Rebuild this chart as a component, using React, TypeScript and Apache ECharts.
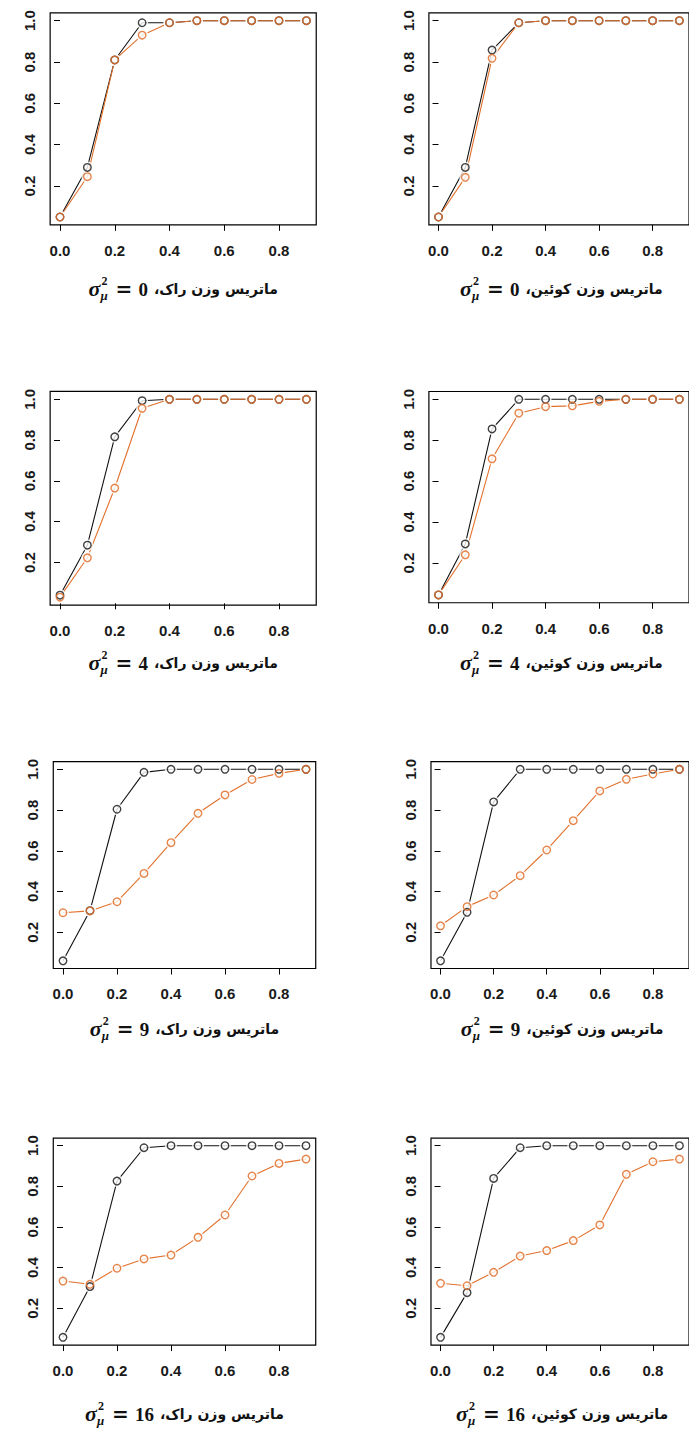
import React, { useEffect, useRef } from "react";
import * as echarts from "echarts";

// ---- data ----
const xValues = [0, 0.1, 0.2, 0.3, 0.4, 0.5, 0.6, 0.7, 0.8, 0.9];
const xTickValues = [0, 0.2, 0.4, 0.6, 0.8];
const yTickValues = [0.2, 0.4, 0.6, 0.8, 1.0];

const rookS0Black = [0.05, 0.29, 0.81, 0.99, 0.99, 1.0, 1.0, 1.0, 1.0, 1.0];
const rookS0Orange = [0.05, 0.245, 0.81, 0.93, 0.99, 1.0, 1.0, 1.0, 1.0, 1.0];
const queenS0Black = [0.05, 0.29, 0.858, 0.99, 1.0, 1.0, 1.0, 1.0, 1.0, 1.0];
const queenS0Orange = [0.05, 0.242, 0.818, 0.99, 1.0, 1.0, 1.0, 1.0, 1.0, 1.0];

const rookS4Black = [0.04, 0.285, 0.816, 0.993, 1.0, 1.0, 1.0, 1.0, 1.0, 1.0];
const rookS4Orange = [0.03, 0.223, 0.565, 0.956, 1.0, 1.0, 1.0, 1.0, 1.0, 1.0];
const queenS4Black = [0.044, 0.293, 0.855, 1.0, 1.0, 1.0, 1.0, 1.0, 1.0, 1.0];
const queenS4Orange = [0.044, 0.24, 0.709, 0.932, 0.964, 0.968, 0.99, 1.0, 1.0, 1.0];

const rookS9Black = [0.06, 0.306, 0.804, 0.985, 1.0, 1.0, 1.0, 1.0, 1.0, 1.0];
const rookS9Orange = [0.296, 0.305, 0.35, 0.489, 0.64, 0.784, 0.874, 0.95, 0.98, 1.0];
const queenS9Black = [0.06, 0.298, 0.84, 1.0, 1.0, 1.0, 1.0, 1.0, 1.0, 1.0];
const queenS9Orange = [0.232, 0.326, 0.383, 0.478, 0.604, 0.748, 0.894, 0.951, 0.977, 1.0];

const rookS16Black = [0.057, 0.307, 0.826, 0.99, 1.0, 1.0, 1.0, 1.0, 1.0, 1.0];
const rookS16Orange = [0.334, 0.318, 0.397, 0.443, 0.462, 0.549, 0.659, 0.851, 0.913, 0.934];
const queenS16Black = [0.057, 0.277, 0.839, 0.99, 1.0, 1.0, 1.0, 1.0, 1.0, 1.0];
const queenS16Orange = [0.323, 0.311, 0.377, 0.457, 0.484, 0.533, 0.61, 0.859, 0.921, 0.934];

const captionLabels = ["ماتریس وزن راک،", "ماتریس وزن کوئین،"];
const sigmaValues = ["0", "4", "9", "16"];

const panelSeries = [
  [rookS0Black, rookS0Orange],
  [queenS0Black, queenS0Orange],
  [rookS4Black, rookS4Orange],
  [queenS4Black, queenS4Orange],
  [rookS9Black, rookS9Orange],
  [queenS9Black, queenS9Orange],
  [rookS16Black, rookS16Orange],
  [queenS16Black, queenS16Orange],
];

// ---- layout (pixel positions of ticks 0.0 / 0.8 on x, 1.0 / 0.2 on y) ----
const layout = [
  { x0: 60, x8: 279, y10: 20.7, y02: 186, capY: 288 },
  { x0: 438.7, x8: 656.7, y10: 20.7, y02: 186, capY: 288 },
  { x0: 60, x8: 279, y10: 399.3, y02: 562.5, capY: 662 },
  { x0: 438.7, x8: 656.7, y10: 399.3, y02: 563, capY: 662 },
  { x0: 63, x8: 279, y10: 769.3, y02: 932.3, capY: 1028 },
  { x0: 440.7, x8: 656.7, y10: 769.3, y02: 932.3, capY: 1028 },
  { x0: 63, x8: 279, y10: 1145.7, y02: 1308.3, capY: 1413 },
  { x0: 440.7, x8: 656.7, y10: 1145.7, y02: 1308.3, capY: 1413 },
];

const BLACK = "#111111";
const ORANGE = "#E2702C";
const LABEL_FONT = "Liberation Sans";
const PERSIAN_FONT = "bold 14px 'DejaVu Sans'";
const DIGIT_FONT = "bold 19px 'Liberation Serif'";

function padRange(vals: number[]): [number, number] {
  const mn = Math.min(...vals);
  const mx = Math.max(...vals);
  const p = (mx - mn) * 0.04;
  return [mn - p, mx + p];
}

let measureCtx: CanvasRenderingContext2D | null = null;
function measure(text: string, font: string): number {
  if (!measureCtx) measureCtx = document.createElement("canvas").getContext("2d");
  if (!measureCtx) return text.length * 8;
  measureCtx.font = font;
  return measureCtx.measureText(text).width;
}

function buildOption() {
  const grids: any[] = [];
  const xAxes: any[] = [];
  const yAxes: any[] = [];
  const series: any[] = [];
  const graphics: any[] = [];
  const xr = padRange(xValues);

  panelSeries.forEach((pair, i) => {
    const L = layout[i];
    const [blk, org] = pair;
    const yr = padRange([...blk, ...org]);
    const sx = (L.x8 - L.x0) / 0.8;
    const sy = (L.y02 - L.y10) / 0.8;
    const left = L.x0 + xr[0] * sx;
    const width = (xr[1] - xr[0]) * sx;
    const top = L.y10 - (yr[1] - 1) * sy;
    const height = (yr[1] - yr[0]) * sy;
    grids.push({
      left,
      top,
      width,
      height,
      show: true,
      borderColor: "#000",
      borderWidth: 1.2,
      backgroundColor: "transparent",
      containLabel: false,
    });
    xAxes.push({
      gridIndex: i,
      type: "value",
      min: xr[0],
      max: xr[1],
      splitLine: { show: false },
      axisLine: { show: false },
      axisTick: {
        show: true,
        inside: false,
        length: 6,
        customValues: xTickValues,
        lineStyle: { color: "#000", width: 1 },
      },
      axisLabel: {
        customValues: xTickValues,
        formatter: (v: number) => v.toFixed(1),
        margin: 18,
        fontFamily: LABEL_FONT,
        fontSize: 15,
        fontWeight: "bold",
        color: "#1a1a1a",
      },
    });
    yAxes.push({
      gridIndex: i,
      type: "value",
      min: yr[0],
      max: yr[1],
      splitLine: { show: false },
      axisLine: { show: false },
      axisTick: {
        show: true,
        inside: false,
        length: 6,
        customValues: yTickValues,
        lineStyle: { color: "#000", width: 1 },
      },
      axisLabel: {
        customValues: yTickValues,
        formatter: (v: number) => v.toFixed(1),
        rotate: 90,
        margin: 13,
        fontFamily: LABEL_FONT,
        fontSize: 15,
        fontWeight: "bold",
        color: "#1a1a1a",
      },
    });
    const blkData = xValues.map((x, k) => [x, blk[k]]);
    const orgData = xValues.map((x, k) => [x, org[k]]);
    const common = { xAxisIndex: i, yAxisIndex: i, silent: true };
    series.push({
      ...common,
      type: "line",
      data: blkData,
      symbol: "none",
      lineStyle: { color: BLACK, width: 1.1 },
      z: 2,
    });
    series.push({
      ...common,
      type: "line",
      data: orgData,
      symbol: "none",
      lineStyle: { color: ORANGE, width: 1.1 },
      z: 2,
    });
    series.push({
      ...common,
      type: "scatter",
      data: [...blkData, ...orgData],
      symbol: "circle",
      symbolSize: 12,
      itemStyle: { color: "#ffffff", borderWidth: 0 },
      z: 3,
    });
    series.push({
      ...common,
      type: "scatter",
      data: blkData,
      symbol: "circle",
      symbolSize: 7.5,
      itemStyle: { color: "rgba(255,255,255,0)", borderColor: BLACK, borderWidth: 1.4 },
      z: 4,
    });
    series.push({
      ...common,
      type: "scatter",
      data: orgData,
      symbol: "circle",
      symbolSize: 7.5,
      itemStyle: { color: "rgba(255,255,255,0)", borderColor: ORANGE, borderWidth: 1.4, opacity: 0.85 },
      z: 5,
    });

    // caption: math part on the left, Persian part on the right, centred as a whole
    const cx = left + width / 2;
    const cy = L.capY;
    const row = Math.floor(i / 2);
    const col = i % 2;
    const sigTxt = sigmaValues[row];
    const persian = captionLabels[col] + "\u200F";
    const pw = measure(persian, PERSIAN_FONT);
    const valW = measure(sigTxt, DIGIT_FONT);
    const mathW = 50 + valW;
    const gap = 6;
    const total = mathW + gap + pw;
    const start = cx - total / 2;
    const txt = (x: number, y: number, text: string, font: string, align = "left", extra: any = {}) => ({
      type: "text",
      x,
      y,
      ...extra,
      style: { text, font, fill: "#111", verticalAlign: "middle", align },
    });
    graphics.push({
      type: "group",
      silent: true,
      children: [
        txt(start, cy, "σ", "italic bold 22px 'Liberation Serif'"),
        txt(start + 13, cy - 7, "2", "bold 12px 'Liberation Serif'"),
        txt(start + 12, cy + 7, "μ", "italic bold 13px 'Liberation Serif'"),
        txt(start + 27, cy + 1, "=", "bold 20px 'DejaVu Serif'"),
        txt(start + 50, cy + 1, sigTxt, DIGIT_FONT),
        txt(start + total, cy + 1, persian, PERSIAN_FONT, "right"),
      ],
    });
  });

  return {
    animation: false,
    backgroundColor: "#ffffff",
    grid: grids,
    xAxis: xAxes,
    yAxis: yAxes,
    series,
    graphic: graphics,
  };
}

export default function App() {
  const ref = useRef<HTMLDivElement>(null);
  useEffect(() => {
    if (!ref.current) return;
    const chart = echarts.init(ref.current, undefined, { renderer: "svg" });
    chart.setOption(buildOption() as any);
    return () => chart.dispose();
  }, []);
  return (
    <div
      ref={ref}
      style={{
        position: "absolute",
        left: 0,
        top: 0,
        width: 689,
        height: 1430,
        overflow: "hidden",
        background: "#fff",
      }}
    />
  );
}
